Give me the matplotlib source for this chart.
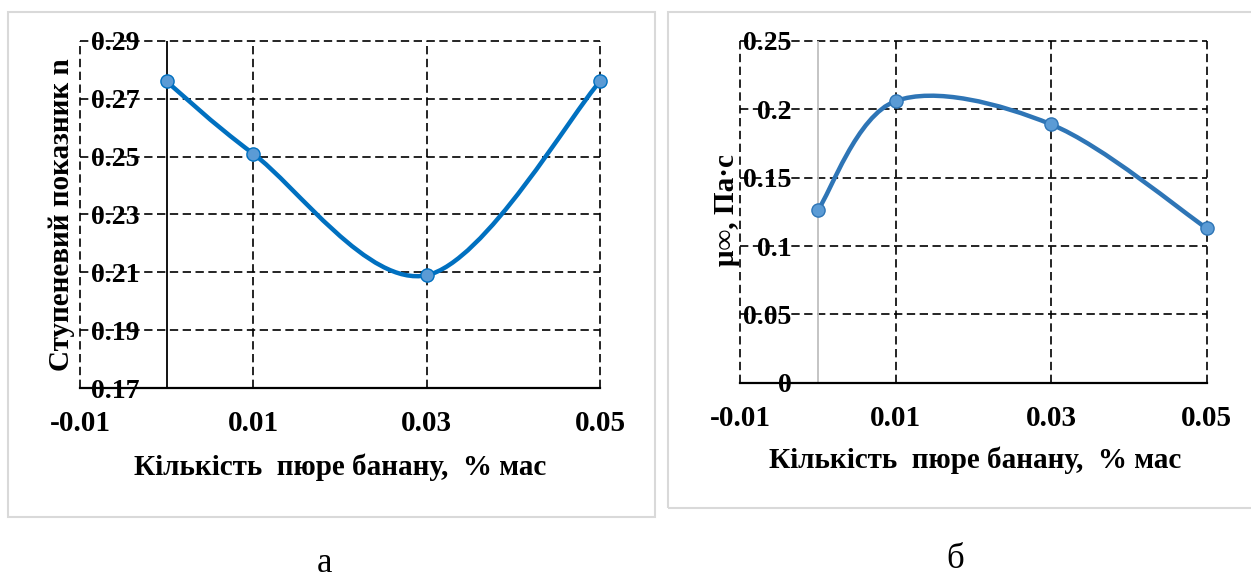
import numpy as np
import matplotlib
matplotlib.use('Agg')
import matplotlib.pyplot as plt
from matplotlib.path import Path
from matplotlib.patches import PathPatch, Rectangle

plt.rcParams['font.family'] = ['Liberation Serif', 'DejaVu Serif']

# дані
x_conc = [0.0, 0.01, 0.03, 0.05]
n_index = [0.276, 0.251, 0.209, 0.276]
mu_inf = [0.126, 0.206, 0.189, 0.113]

x_ticks = [-0.01, 0.01, 0.03, 0.05]
x_tick_labels = ['-0.01', '0.01', '0.03', '0.05']
n_ticks = [0.17, 0.19, 0.21, 0.23, 0.25, 0.27, 0.29]
n_tick_labels = ['0.17', '0.19', '0.21', '0.23', '0.25', '0.27', '0.29']
mu_ticks = [0, 0.05, 0.1, 0.15, 0.2, 0.25]
mu_tick_labels = ['0', '0.05', '0.1', '0.15', '0.2', '0.25']

xlabel = 'Кількість  пюре банану,  % мас'


def smooth_path(xs, ys):
    """Згладжена лінія як в Excel (кубічні криві Безьє через точки)"""
    pts = np.column_stack([xs, ys])
    n = len(pts)
    verts = [pts[0]]
    codes = [Path.MOVETO]
    for i in range(n - 1):
        p_prev = pts[max(i - 1, 0)]
        p0 = pts[i]
        p1 = pts[i + 1]
        p_next = pts[min(i + 2, n - 1)]
        c1 = p0 + (p1 - p_prev) / 6.0
        c2 = p1 - (p_next - p0) / 6.0
        verts += [c1, c2, p1]
        codes += [Path.CURVE4] * 3
    return Path(verts, codes)


def setup_axes(ax, yticks, ylabels, ylim, axis_color, ypad, xpad):
    ax.set_xlim(-0.01, 0.05)
    ax.set_ylim(*ylim)
    ax.set_xticks(x_ticks)
    ax.set_xticklabels(x_tick_labels, fontsize=21, fontweight='bold')
    ax.set_yticks(yticks)
    ax.set_yticklabels(ylabels, fontsize=20, fontweight='bold')
    ax.tick_params(axis='y', length=0, pad=ypad)
    ax.tick_params(axis='x', length=0, pad=xpad)
    ax.grid(True, color='black', linestyle=(0, (5, 2.7)), linewidth=1.2)
    for gl in ax.get_xgridlines() + ax.get_ygridlines():
        gl.set_clip_on(False)
    ax.set_axisbelow(True)
    for s in ['left', 'top', 'right']:
        ax.spines[s].set_visible(False)
    ax.spines['bottom'].set_color('black')
    ax.spines['bottom'].set_linewidth(1.6)
    ax.axvline(0, color=axis_color, linewidth=1.3, zorder=1.5)
    ax.patch.set_alpha(0)


fig = plt.figure(figsize=(12.51, 5.78), dpi=100)

# рамки діаграм
fig.patches.append(Rectangle((0.0064, 0.1055), 0.5172, 0.8737, transform=fig.transFigure,
                             fill=False, edgecolor='#D9D9D9', linewidth=1.5))
fig.patches.append(Rectangle((0.534, 0.1211), 0.47, 0.858, transform=fig.transFigure,
                             fill=False, edgecolor='#D9D9D9', linewidth=1.5))

# а) ступеневий показник
ax1 = fig.add_axes([0.0639, 0.3287, 0.4157, 0.6004])
setup_axes(ax1, n_ticks, n_tick_labels, (0.17, 0.29), 'black', -43, 16)
ax1.add_patch(PathPatch(smooth_path(x_conc, n_index), facecolor='none',
                        edgecolor='#0070C0', linewidth=3.2, zorder=3))
ax1.plot(x_conc, n_index, 'o', color='#5B9BD5', markeredgecolor='#0070C0',
         markersize=9.5, markeredgewidth=1.0, zorder=4, clip_on=False)
ax1.text(-0.0346, 0.5, 'Ступеневий показник n', transform=ax1.transAxes, rotation=90,
         ha='center', va='center', rotation_mode='anchor', fontsize=21, fontweight='bold')
ax1.text(0.5, -0.2277, xlabel, transform=ax1.transAxes, ha='center', va='center',
         fontsize=21, fontweight='bold')

# б) в'язкість
ax2 = fig.add_axes([0.5915, 0.3379, 0.3731, 0.5912])
setup_axes(ax2, mu_ticks, mu_tick_labels, (0, 0.25), '#BFBFBF', -37, 16)
ax2.add_patch(PathPatch(smooth_path(x_conc, mu_inf), facecolor='none',
                        edgecolor='#2E75B6', linewidth=3.2, zorder=3))
ax2.plot(x_conc, mu_inf, 'o', color='#5B9BD5', markeredgecolor='#2E75B6',
         markersize=9.5, markeredgewidth=1.0, zorder=4, clip_on=False)
ax2.text(-0.028, 0.504, 'μ∞, Па·с', transform=ax2.transAxes, rotation=90,
         ha='center', va='center', rotation_mode='anchor', fontsize=21, fontweight='bold')
ax2.text(0.5035, -0.226, xlabel, transform=ax2.transAxes, ha='center', va='center',
         fontsize=21, fontweight='bold')

fig.text(325 / 1251, 1 - 564 / 578, 'а', ha='center', va='center', fontsize=25)
fig.text(955 / 1251, 1 - 560 / 578, 'б', ha='center', va='center', fontsize=25)

plt.savefig('out.png', dpi=100)
plt.close()
